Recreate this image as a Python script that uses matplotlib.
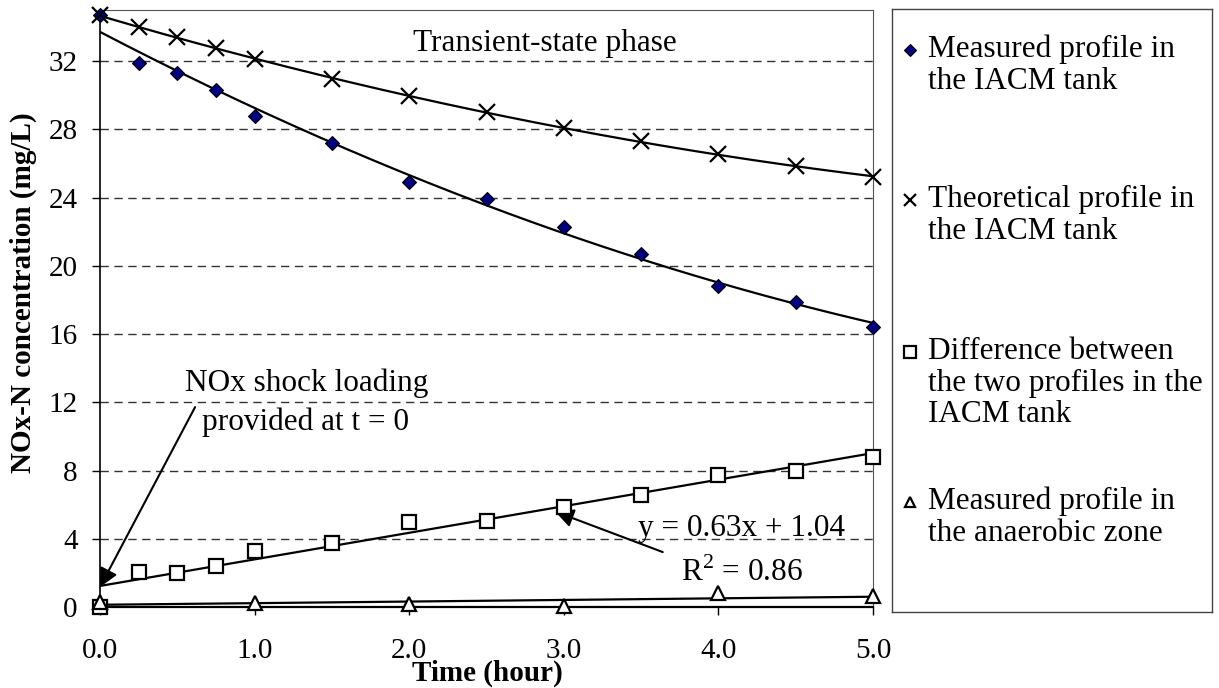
import matplotlib
matplotlib.use("Agg")
import matplotlib.pyplot as plt
import numpy as np

plt.rcParams["font.family"] = ["Liberation Serif", "DejaVu Serif"]
plt.rcParams["mathtext.fontset"] = "custom"
plt.rcParams["mathtext.rm"] = "Liberation Serif"

# data
t_full = [0.0, 0.25, 0.5, 0.75, 1.0, 1.5, 2.0, 2.5, 3.0, 3.5, 4.0, 4.5, 5.0]
measured_iacm = [34.7, 31.9, 31.3, 30.3, 28.8, 27.2, 24.9, 23.9, 22.3, 20.7, 18.8, 17.9, 16.4]
theoretical_iacm = [34.7, 34.0, 33.4, 32.75, 32.1, 30.95, 29.95, 29.0, 28.1, 27.3, 26.55, 25.85, 25.2]
difference = [0.0, 2.05, 2.0, 2.4, 3.3, 3.75, 5.0, 5.05, 5.85, 6.55, 7.75, 7.95, 8.8]
t_anaerobic = [0.0, 1.0, 2.0, 3.0, 4.0, 5.0]
anaerobic = [0.3, 0.25, 0.15, 0.05, 0.8, 0.65]

y_ticks = [0, 4, 8, 12, 16, 20, 24, 28, 32]
x_ticks = [0.0, 1.0, 2.0, 3.0, 4.0, 5.0]

legend_labels = [
    "Measured profile in\nthe IACM tank",
    "Theoretical profile in\nthe IACM tank",
    "Difference between\nthe two profiles in the\nIACM tank",
    "Measured profile in\nthe anaerobic zone",
]

FS = 21      # ticks, axis titles
FS_TXT = 22.5  # annotations and legend

W, H = 1219, 688
fig = plt.figure(figsize=(W / 100, H / 100), dpi=100)
ax = fig.add_axes([100 / W, (H - 607) / H, 773 / W, 597 / H])

# trend lines (Excel-like fits)
tt = np.linspace(0, 5, 200)
for xs, ys, deg in [(t_full, measured_iacm, 2), (t_full, theoretical_iacm, 2),
                    (t_full, difference, 1), (t_anaerobic, anaerobic, 1)]:
    coef = np.polyfit(xs, ys, deg)
    ax.plot(tt, np.polyval(coef, tt), color="black", lw=1.6, zorder=2)

ax.plot(t_full, measured_iacm, "D", ms=7.5, mfc="#000080", mec="black", mew=0.8,
        clip_on=False, zorder=4)
ax.plot(t_full, theoretical_iacm, "x", ms=11, mec="black", mew=1.6,
        clip_on=False, zorder=4)
ax.plot(t_full, difference, "s", ms=10, mfc="white", mec="black", mew=1.6,
        clip_on=False, zorder=4)
ax.plot(t_anaerobic, anaerobic, "^", ms=9.5, mfc="white", mec="black", mew=1.6,
        clip_on=False, zorder=5)

ax.set_xlim(0, 5)
ax.set_ylim(0, 35)
ax.set_xticks(x_ticks)
ax.set_xticklabels([f"{v:.1f}" for v in x_ticks])
ax.set_yticks(y_ticks)
ax.tick_params(axis="both", direction="out", length=6, width=1, labelsize=FS)
ax.tick_params(axis="x", pad=16)
ax.tick_params(axis="y", pad=10)
for v in y_ticks[1:]:
    ax.axhline(v, color="#333333", lw=1, ls=(0, (6, 4)), zorder=1)

ax.spines["top"].set_color("#555555")
ax.spines["right"].set_color("#555555")
ax.spines["left"].set_linewidth(1.2)
ax.spines["bottom"].set_linewidth(1.6)

ax.set_xlabel("Time (hour)", fontsize=FS, fontweight="bold")
ax.set_ylabel("NOx-N concentration (mg/L)", fontsize=FS, fontweight="bold")
ax.xaxis.set_label_coords(0.5007, -0.088)
ax.yaxis.set_label_coords(-0.082, 0.526)

# annotations
ax.text(2.878, 33.06, "Transient-state phase", fontsize=FS_TXT, ha="center", va="center")
ax.text(1.34, 13.13, "NOx shock loading", fontsize=FS_TXT, ha="center", va="center")
ax.text(1.33, 10.84, "provided at t = 0", fontsize=FS_TXT, ha="center", va="center")
ax.text(4.15, 4.63, "y = 0.63x + 1.04", fontsize=FS_TXT, ha="center", va="center")
ax.text(4.15, 1.99, "R$^2$ = 0.86", fontsize=FS_TXT, ha="center", va="center")
arrow = dict(arrowstyle="-|>", mutation_scale=28, lw=1.5, color="black",
             shrinkA=0, shrinkB=0)
ax.annotate("", xy=(0.0, 1.17), xytext=(0.615, 11.72), arrowprops=arrow)
ax.annotate("", xy=(2.943, 5.6), xytext=(3.64, 3.22), arrowprops=arrow)

# legend box drawn by hand (local coords in pixels from its top-left)
lg = fig.add_axes([892 / W, (H - 612) / H, 320 / W, 603 / H])
lg.set_xlim(0, 320)
lg.set_ylim(603, 0)
lg.set_xticks([])
lg.set_yticks([])
for s in lg.spines.values():
    s.set_color("#444444")
    s.set_linewidth(1)
legend_y = [41, 191, 343, 493]
legend_style = [
    dict(marker="D", ms=6, mfc="#000080", mec="black", mew=0.8),
    dict(marker="x", ms=9, mec="black", mew=1.6),
    dict(marker="s", ms=8, mfc="white", mec="black", mew=1.6),
    dict(marker="^", ms=7.5, mfc="white", mec="black", mew=1.6),
]
for y0, lab, st in zip(legend_y, legend_labels, legend_style):
    lg.plot([18], [y0], ls="none", **st)
    lg.text(36, y0 - 15, lab, fontsize=FS_TXT, ha="left", va="top", linespacing=1.12)

fig.savefig("out.png", dpi=100)
